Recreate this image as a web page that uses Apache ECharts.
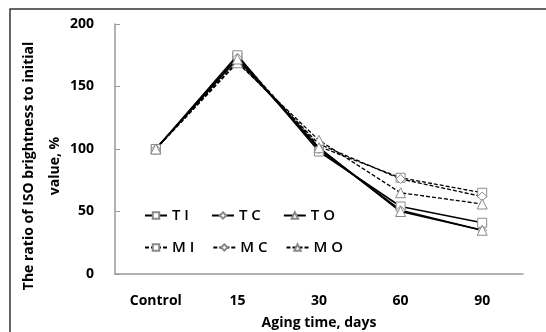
<!DOCTYPE html>
<html>
<head>
<meta charset="utf-8">
<script src="https://cdn.jsdelivr.net/npm/echarts@6/dist/echarts.min.js"></script>
<style>
  html, body { margin: 0; padding: 0; background: #fff; }
  #chart { width: 546px; height: 332px; }
</style>
</head>
<body>
<div id="chart"></div>
<script>
// aging time categories
const categories = ['Control', '15', '30', '60', '90']
const yTicks = [0, 50, 100, 150, 200]

// ratio of ISO brightness to initial value, %
const tI = [100, 175, 98, 54, 41]
const tC = [100, 173, 100, 51, 35]
const tO = [100, 172, 101, 50, 35]
const mI = [100, 174, 102, 77, 65]
const mC = [100, 170, 104, 76, 62]
const mO = [100, 169, 107, 65, 56]

const font = '"Open Sans", "Noto Sans", sans-serif'

function makeSeries(name, data, symbol, dashed) {
  return {
    name: name,
    type: 'line',
    data: data,
    symbol: symbol,
    symbolSize: symbol === 'triangle' ? 10 : 9,
    showSymbol: true,
    itemStyle: { color: '#fff', borderColor: '#8a8a8a', borderWidth: 1 },
    lineStyle: { color: '#000', width: dashed ? 1.3 : 1.6, type: dashed ? [4, 2] : 'solid' },
    emphasis: { disabled: true },
    z: dashed ? 2 : 3
  }
}

let myChart = echarts.init(document.getElementById('chart'))
let legendText = { fontFamily: font, fontSize: 15, fontWeight: 600, color: '#000' }
let options = {
  animation: false,
  grid: { left: 115, right: 23, top: 24, bottom: 58, outerBoundsMode: 'none', containLabel: false },
  legend: [
    {
      data: ['T I', 'T C', 'T O'],
      left: 139, top: 203,
      itemWidth: 22, itemHeight: 8, itemGap: 22,
      textStyle: legendText
    },
    {
      data: ['M I', 'M C', 'M O'],
      left: 139, top: 235,
      itemWidth: 22, itemHeight: 8, itemGap: 18,
      textStyle: legendText
    }
  ],
  xAxis: {
    type: 'category',
    data: categories,
    boundaryGap: true,
    name: 'Aging time, days',
    nameLocation: 'middle',
    nameGap: 42,
    nameTextStyle: { fontFamily: font, fontSize: 14, fontWeight: 'bold', color: '#000' },
    axisLine: { lineStyle: { color: '#999', width: 1.5 } },
    axisTick: { inside: true, length: 6, alignWithLabel: false, lineStyle: { color: '#999' } },
    axisLabel: { margin: 20, fontFamily: font, fontSize: 14, fontWeight: 'bold', color: '#000' }
  },
  yAxis: {
    type: 'value',
    min: 0, max: 200, interval: 50,
    axisLine: { show: true, lineStyle: { color: '#999', width: 1.5 } },
    axisTick: { show: true, inside: true, length: 5, lineStyle: { color: '#999' } },
    splitLine: { show: false },
    axisLabel: {
      margin: 21, fontFamily: font, fontSize: 14, fontWeight: 'bold', color: '#000',
      formatter: v => yTicks.includes(v) ? String(v) : ''
    }
  },
  graphic: [
    {
      type: 'rect',
      shape: { x: 10, y: 9, width: 600, height: 400 },
      style: { fill: 'none', stroke: '#333', lineWidth: 1.5 },
      silent: true
    },
    {
      type: 'text',
      x: 42, y: 166,
      rotation: Math.PI / 2,
      style: {
        text: 'The ratio of ISO brightness to initial\nvalue, %',
        fontFamily: font, fontSize: 14, fontWeight: 'bold', fill: '#000',
        align: 'center', verticalAlign: 'middle', lineHeight: 26
      }
    }
  ],
  series: [
    makeSeries('T I', tI, 'rect', false),
    makeSeries('T C', tC, 'diamond', false),
    makeSeries('T O', tO, 'triangle', false),
    makeSeries('M I', mI, 'rect', true),
    makeSeries('M C', mC, 'diamond', true),
    makeSeries('M O', mO, 'triangle', true)
  ]
}
myChart.setOption(options)
</script>
</body>
</html>
